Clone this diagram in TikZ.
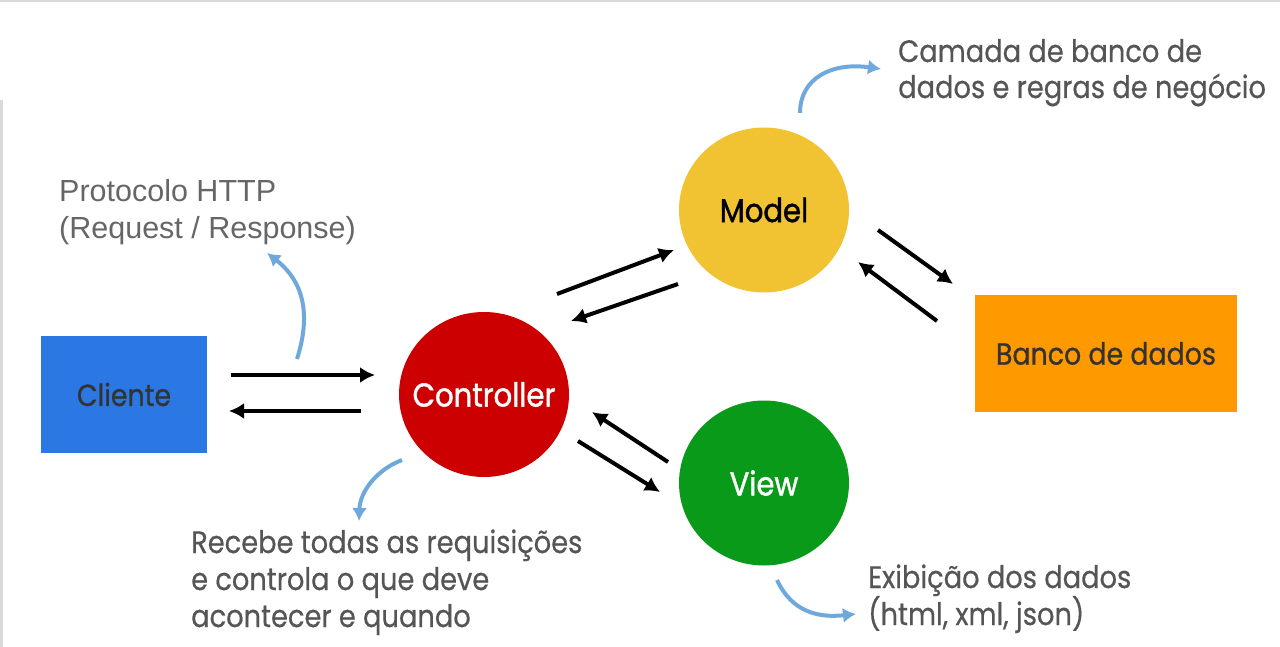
\documentclass[tikz,border=0pt]{standalone}
\usepackage{fontspec}
\setmainfont{Poppins}[FakeStretch=0.88]
\newfontfamily\httpfont{Liberation Sans}
\usetikzlibrary{shapes.geometric,arrows.meta}
\definecolor{cliblue}{HTML}{2B78E4}
\definecolor{ctrlred}{HTML}{CC0000}
\definecolor{modyel}{HTML}{F1C232}
\definecolor{viewgreen}{HTML}{0A9A1A}
\definecolor{dborange}{HTML}{FF9900}
\definecolor{noteblue}{HTML}{6FA8DC}
\definecolor{txtgrey}{HTML}{555555}
\definecolor{edgegrey}{HTML}{D9D9D9}
\begin{document}
\begin{tikzpicture}[x=1pt,y=-1pt,
  boxnode/.style={rectangle, inner sep=0pt, font=\addfontfeature{FakeBold=0.8}\fontsize{30.5}{36}\selectfont},
  blob/.style={ellipse, inner sep=0pt, minimum width=170pt, minimum height=165pt},
  blobtext/.style={inner sep=0pt, font=\addfontfeature{FakeBold=1.3}\fontsize{33}{38}\selectfont},
  lbl/.style={inner sep=0pt, anchor=base west, text=txtgrey, font=\addfontfeature{FakeBold=0.5}\fontsize{31}{37}\selectfont},
  httplbl/.style={inner sep=0pt, anchor=base west, text=txtgrey!90!white, font=\httpfont\fontsize{30.5}{37}\selectfont},
  flow/.style={line width=4pt, draw=black, -{Latex[length=15pt,width=16pt]}},
  note/.style={line width=4pt, draw=noteblue, -{Latex[length=13pt,width=15pt]}}]
\useasboundingbox (0,0) rectangle (1280,647);
\fill[white] (0,0) rectangle (1280,647);
\fill[edgegrey] (0,0) rectangle (1280,2);
\fill[edgegrey] (0,100) rectangle (3,647);

% nodes
\node[boxnode, fill=cliblue, minimum width=166pt, minimum height=117pt, text=black!80] (cli) at (124,394.5) {Cliente};
\node[blob, fill=ctrlred, label={[blobtext, text=white]center:Controller}] (ctrl) at (484,394.5) {};
\node[blob, fill=modyel, label={[blobtext, text=black]center:Model}] (model) at (764,210) {};
\node[blob, fill=viewgreen, label={[blobtext, text=white]center:View}] (view) at (764,483) {};
\node[boxnode, fill=dborange, minimum width=262pt, minimum height=117pt, text=black!80] (db) at (1106,353.5) {Banco de dados};

% black connectors
\coordinate (a1s) at (231,375);  \coordinate (a1e) at (375,375);
\coordinate (a2s) at (361,411);  \coordinate (a2e) at (229,411);
\coordinate (a3s) at (557,294);  \coordinate (a3e) at (674,250);
\coordinate (a4s) at (678,284);  \coordinate (a4e) at (571,321);
\coordinate (a5s) at (878,230);  \coordinate (a5e) at (953,284);
\coordinate (a6s) at (937,321);  \coordinate (a6e) at (858,262);
\coordinate (a7s) at (578,441);  \coordinate (a7e) at (660,492);
\coordinate (a8s) at (668,462);  \coordinate (a8e) at (592,412);
\draw[flow] (a1s) -- (a1e);
\draw[flow] (a2s) -- (a2e);
\draw[flow] (a3s) -- (a3e);
\draw[flow] (a4s) -- (a4e);
\draw[flow] (a5s) -- (a5e);
\draw[flow] (a6s) -- (a6e);
\draw[flow] (a7s) -- (a7e);
\draw[flow] (a8s) -- (a8e);

% blue annotation arrows
\coordinate (n1s) at (297,359); \coordinate (n1e) at (267,253);
\coordinate (n2s) at (402,460); \coordinate (n2e) at (359,521);
\coordinate (n3s) at (800,113); \coordinate (n3e) at (881,69);
\coordinate (n4s) at (777,580); \coordinate (n4e) at (856,614);
\draw[note] (n1s) .. controls (312,312) and (302,280) .. (n1e);
\draw[note] (n2s) .. controls (376,470) and (360,492) .. (n2e);
\draw[note] (n3s) .. controls (800,78) and (832,62) .. (n3e);
\draw[note] (n4s) .. controls (792,612) and (818,618) .. (n4e);

% annotation texts
\node[httplbl] (h1) at (59,202) {Protocolo HTTP};
\node[httplbl] (h2) at (59,239) {(Request / Response)};
\node[lbl] (m1) at (898,62) {Camada de banco de};
\node[lbl] (m2) at (898,98) {dados e regras de negócio};
\node[lbl] (c1) at (191,553) {Recebe todas as requisições};
\node[lbl] (c2) at (191,590) {e controla o que deve};
\node[lbl] (c3) at (191,627) {acontecer e quando};
\node[lbl] (v1) at (868,588) {Exibição dos dados};
\node[lbl] (v2) at (868,625) {(html, xml, json)};
\end{tikzpicture}
\end{document}
